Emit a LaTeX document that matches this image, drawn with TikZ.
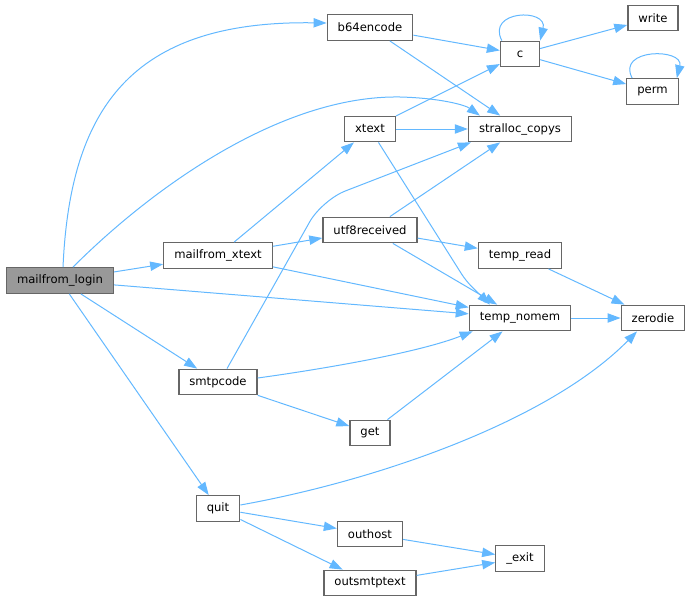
\documentclass[tikz,border=0pt]{standalone}
\usepackage{fontspec}
\setmainfont{DejaVu Sans}
\usetikzlibrary{arrows.meta}
\definecolor{edgeblue}{HTML}{63B8FF}
\definecolor{boxline}{HTML}{666666}
\definecolor{rootfill}{HTML}{999999}
\tikzstyle{fn} = [rectangle, draw=boxline, fill=white, line width=1.3pt, minimum height=25.5pt, minimum width=39pt, inner xsep=10.5pt, inner ysep=0pt, font=\fontsize{11.6}{13}\selectfont, text centered]
\tikzstyle{ln} = [->, draw=edgeblue, line width=1pt]

\begin{document}
\begin{tikzpicture}[x=1pt, y=-1pt, >={Triangle[length=13pt, width=9.3pt]}]
\useasboundingbox (0,0) rectangle (690,602);
\node [fn, fill=rootfill] (login) at (60,280.5) {mailfrom\_login};
\node [fn] (mxt) at (218,255.5) {mailfrom\_xtext};
\node [fn] (sm) at (218,382) {smtpcode};
\node [fn] (quit) at (218,508.5) {quit};
\node [fn] (b64) at (370,27.5) {b64encode};
\node [fn] (xt) at (370,129) {xtext};
\node [fn] (utf) at (370,230) {utf8received};
\node [fn] (get) at (370,433) {get};
\node [fn] (oh) at (370,534) {outhost};
\node [fn] (ost) at (370,583) {outsmtptext};
\node [fn] (c) at (520,54) {c};
\node [fn, right of=xt, node distance=150pt] (sc) {stralloc\_copys};
\node [fn] (tr) at (520,255.5) {temp\_read};
\node [fn] (tn) at (520,318) {temp\_nomem};
\node [fn] (ex) at (520,558.5) {\_exit};
\node [fn] (wr) at (653,18) {write};
\node [fn] (perm) at (652.5,91.5) {perm};
\node [fn, right of=tn, node distance=133pt] (zd) {zerodie};
% mailfrom_login
\draw [ln] ([xshift=3pt]login.north) .. controls (70,110) and (130,20) .. ([yshift=4.5pt]b64.west);
\draw [ln] ([xshift=13pt]login.north) .. controls (150,190) and (280,95) .. (400,97) .. controls (440,98) and (465,105) .. ([xshift=12pt]sc.north west);
\draw [ln] (login) -- (mxt);
\draw [ln] (login) -- (tn);
\draw [ln] (login) -- (sm);
\draw [ln] (login) -- (quit);
% mailfrom_xtext
\draw [ln] (mxt) -- (xt);
\draw [ln] (mxt) -- (utf);
\draw [ln] (mxt) -- (tn);
% b64encode
\draw [ln] (b64) -- (c);
\draw [ln] (b64) -- (sc);
% c and perm
\draw [ln] ([xshift=2pt]c.north west) .. controls (486,10) and (548,8) .. (c.north east);
\draw [ln] (c) -- (wr);
\draw [ln] (c) -- (perm);
\draw [ln] ([xshift=6pt]perm.north west) .. controls (616,48) and (684,48) .. ([xshift=-2pt]perm.north east);
% xtext
\draw [ln] (xt) -- (c);
\draw [ln] (xt) -- (sc);
\draw [ln, rounded corners=8pt] (xt) -- (466,281) -- ([xshift=-30pt]tn.north);
% utf8received
\draw [ln] (utf) -- (sc);
\draw [ln] (utf) -- (tr);
\draw [ln] (utf) -- (tn);
\draw [ln] (tr) -- (zd);
\draw [ln] (tn) -- (zd);
% smtpcode
\draw [ln, rounded corners=25pt] ([xshift=9pt]sm.north) -- (322,200) -- ([xshift=3pt]sc.south west);
\draw [ln] ([yshift=4pt]sm.east) .. controls (330,368) and (420,352) .. ([xshift=4pt]tn.south west);
\draw [ln] (sm) -- (get);
\draw [ln] (get) -- (tn);
% quit
\draw [ln] ([yshift=3.5pt]quit.east) .. controls (380,480) and (550,420) .. ([xshift=-16pt]zd.south);
\draw [ln] (quit) -- (oh);
\draw [ln] (quit) -- (ost);
\draw [ln] (oh) -- (ex);
\draw [ln] (ost) -- (ex);
\end{tikzpicture}
\end{document}
